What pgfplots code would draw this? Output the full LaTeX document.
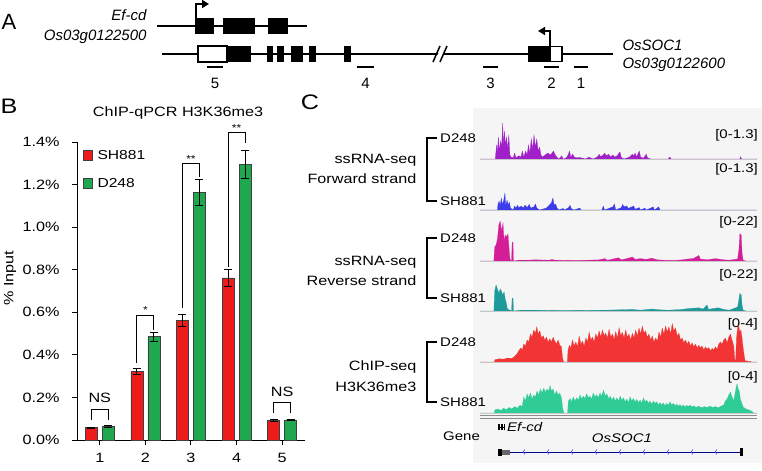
\documentclass[border=0pt]{standalone}
\usepackage{pgfplots}
\pgfplotsset{compat=1.18}
\usetikzlibrary{arrows.meta}
\usepackage{graphicx}
\usepackage{fontspec}
\setmainfont{Liberation Sans}
\newcommand\fs[1]{\fontsize{#1bp}{#1bp}\selectfont}
\newcommand\T[2]{{\fs{#1}\scalebox{1.2}[1]{#2}}}
\newcommand\TI[2]{{\fs{#1}\itshape\scalebox{1.2}[1]{#2}}}
\definecolor{barred}{HTML}{EE1B1B}
\definecolor{bargreen}{HTML}{1FA84F}
\definecolor{cpurple}{HTML}{A11FC8}
\definecolor{cblue}{HTML}{3C3CE8}
\definecolor{cmag}{HTML}{D41E98}
\definecolor{cteal}{HTML}{1F9A9A}
\definecolor{cred}{HTML}{F23434}
\definecolor{cgreen}{HTML}{2FCC96}
\definecolor{bg}{HTML}{F5F5F5}

\newcommand\track[3]{%
\begin{axis}[at={(480bp,-#1bp)},anchor=south west,scale only axis,width=277bp,height=40bp,
  xmin=0,xmax=100,ymin=0,ymax=1,hide axis,clip=true]
\addplot[fill=#2,draw=#2,line width=0.2pt] coordinates {#3} \closedcycle;
\end{axis}
\draw[black!22,line width=0.8bp] (480bp,-#1bp) -- (757bp,-#1bp);}

\begin{document}
\begin{tikzpicture}
\path[use as bounding box] (0bp,0bp) rectangle (762bp,-471bp);
\begin{scope}[x=1bp,y=1bp]
% ================= Panel A =================
\node[font=\fs{22}] at (9,-22) {A};
\node[anchor=east,font=\itshape\fs{15}] at (150,-15) {Ef-cd};
\node[anchor=east,font=\itshape\fs{15}] at (150,-37) {Os03g0122500};
\draw[line width=2bp] (157,-26) -- (307,-26);
\fill (195,-18) rectangle (214,-34);
\fill (223,-18) rectangle (255,-34);
\fill (268,-18) rectangle (288,-34);
\draw[line width=1.5bp,-{Triangle[length=7bp,width=8bp]}] (196,-18) -- (196,-4) -- (209,-4);
% OsSOC1
\draw[line width=2bp] (162,-54) -- (613,-54);
\filldraw[fill=white,draw=black,line width=1.3bp] (198,-46) rectangle (227,-62);
\fill (227,-46) rectangle (251,-62);
\fill (267,-46) rectangle (273,-62);
\fill (277,-46) rectangle (284,-62);
\fill (291,-46) rectangle (303,-62);
\fill (309,-46) rectangle (316,-62);
\fill (344,-46) rectangle (351,-62);
\fill (528,-46) rectangle (550,-62);
\filldraw[fill=white,draw=black,line width=1.3bp] (550,-46.6) rectangle (562,-61.4);
\fill[white] (435,-60) -- (440,-60) -- (446,-48) -- (441,-48) -- cycle;
\draw[line width=1.5bp] (433,-62) -- (440,-46) (440,-62) -- (447,-46);
\draw[line width=1.5bp,-{Triangle[length=7bp,width=8bp]}] (550,-46) -- (550,-31) -- (538,-31);
\foreach \a/\b/\n in {207/223/5,357/374/4,483/498/3,544/559/2,574/588/1}{
  \draw[line width=2bp] (\a,-67) -- (\b,-67);
  \node[font=\fs{15}] at ({(\a+\b)/2},-83) {\n};}
\node[anchor=west,font=\itshape\fs{15}] at (619,-45) {OsSOC1};
\node[anchor=west,font=\itshape\fs{15}] at (619,-65) {Os03g0122600};

% ================= Panel B texts =================
\node at (9,-106) {\T{21}{B}};
\node[anchor=base] at (178,-116) {\T{13.5}{ChIP-qPCR H3K36me3}};
\node[rotate=90] at (10,-278) {\T{13.5}{\% Input}};
\filldraw[fill=barred,draw=black!75,line width=0.6bp] (83,-150) rectangle (92,-160);
\node[anchor=west] at (94,-155) {\T{13}{SH881}};
\filldraw[fill=bargreen,draw=black!75,line width=0.6bp] (83,-178) rectangle (92,-188);
\node[anchor=west] at (94,-183) {\T{13}{D248}};

% ================= Panel C texts =================
\node at (310,-102) {\T{21}{C}};
\fill[bg] (473,-108) rectangle (762,-463);
\node[anchor=east] at (420,-160) {\T{13.5}{ssRNA-seq}};
\node[anchor=east] at (420,-179) {\T{13.5}{Forward strand}};
\node[anchor=east] at (420,-262) {\T{13.5}{ssRNA-seq}};
\node[anchor=east] at (420,-281) {\T{13.5}{Reverse strand}};
\node[anchor=east] at (420,-367) {\T{13.5}{ChIP-seq}};
\node[anchor=east] at (420,-387) {\T{13.5}{H3K36me3}};
\foreach \t/\b in {138/201,238/298,342/402}{
  \draw[line width=1.2bp] (437,-\t) -- (427,-\t) -- (427,-\b) -- (437,-\b);
  \node[anchor=west,inner sep=2bp] at (438,-\t) {\T{12.5}{D248}};
  \node[anchor=west,inner sep=2bp] at (438,-\b) {\T{12.5}{SH881}};}
\foreach \y/\l in {135/{[0-1.3]},169/{[0-1.3]},222/{[0-22]},275/{[0-22]},324/{[0-4]},377/{[0-4]}}{
  \node[anchor=east,inner sep=2bp] at (760,-\y) {\T{12.5}{\l}};}
% separator
\draw[black!45,line width=1bp] (480,-415) -- (757,-415);
\draw[black!45,line width=1bp] (480,-418) -- (757,-418);
% gene track
\node[anchor=west,inner sep=1bp] at (442,-436) {\T{12.5}{Gene}};
\fill (498,-424) rectangle (499.5,-430);
\fill (501,-424) rectangle (502.5,-430);
\fill (503.5,-424) rectangle (505,-430);
\draw (498,-427) -- (505,-427);
\node[anchor=west,inner sep=2bp] at (505,-427) {\TI{12.5}{Ef-cd}};
\node at (622,-438) {\TI{12.5}{OsSOC1}};
\draw[blue!55!black,line width=0.8bp] (498,-452) -- (742,-452);
\fill (498,-448.5) rectangle (502,-455.5);
\fill[black!60] (502,-449.5) rectangle (510,-454.5);
\fill (740,-448) rectangle (742.5,-456);
\foreach \x in {523,547,...,735}{
  \draw[blue!70,line width=0.6bp] (\x+2,-449.5) -- (\x,-452) -- (\x+2,-454.5);}
\end{scope}

% ================= Panel B axis =================
\begin{axis}[at={(77bp,-440bp)},anchor=south west,scale only axis,width=228bp,height=298bp,
  xmin=0.5,xmax=5.5,ymin=0,ymax=1.4,clip=false,
  axis lines=left,axis line style={-,line width=1bp},
  ytick={0,0.2,0.4,0.6,0.8,1.0,1.2,1.4},
  yticklabels={\T{13.5}{0.0\%},\T{13.5}{0.2\%},\T{13.5}{0.4\%},\T{13.5}{0.6\%},\T{13.5}{0.8\%},\T{13.5}{1.0\%},\T{13.5}{1.2\%},\T{13.5}{1.4\%}},
  xtick={1,2,3,4,5},xticklabels={\T{13.5}{1},\T{13.5}{2},\T{13.5}{3},\T{13.5}{4},\T{13.5}{5}},
  yticklabel style={xshift=-9bp},
  xticklabel style={yshift=-5bp},
  tick style={line width=1bp,black},tick align=outside,major tick length=5bp,
  ybar=5bp,bar width=12bp,
  error bars/y dir=both,error bars/y explicit,
  error bars/error bar style={line width=1bp,black},
  error bars/error mark options={rotate=90,mark size=4bp,line width=1bp,black}]
\addplot[fill=barred,draw=black!75,line width=0.6bp] coordinates {
(1,0.058) +- (0,0.003) (2,0.322) +- (0,0.012) (3,0.562) +- (0,0.027) (4,0.762) +- (0,0.04) (5,0.092) +- (0,0.004)};
\addplot[fill=bargreen,draw=black!75,line width=0.6bp] coordinates {
(1,0.063) +- (0,0.003) (2,0.485) +- (0,0.022) (3,1.162) +- (0,0.06) (4,1.295) +- (0,0.065) (5,0.094) +- (0,0.004)};
\draw[line width=1bp] (axis cs:0.814,0.094) |- (axis cs:1.186,0.144) -- (axis cs:1.186,0.094);
\node at (axis cs:1,0.197) {\T{13.5}{NS}};
\draw[line width=1bp] (axis cs:1.814,0.363) |- (axis cs:2.186,0.587) -- (axis cs:2.186,0.516);
\node at (axis cs:2,0.612) {\T{10}{*}};
\draw[line width=1bp] (axis cs:2.814,0.618) |- (axis cs:3.186,1.299) -- (axis cs:3.186,1.236);
\node at (axis cs:3,1.322) {\T{10}{**}};
\draw[line width=1bp] (axis cs:3.814,0.815) |- (axis cs:4.186,1.444) -- (axis cs:4.186,1.396);
\node at (axis cs:4,1.467) {\T{10}{**}};
\draw[line width=1bp] (axis cs:4.814,0.127) |- (axis cs:5.186,0.174) -- (axis cs:5.186,0.127);
\node at (axis cs:5,0.227) {\T{13.5}{NS}};
\end{axis}

% ================= Panel C tracks =================
\track{159}{cpurple}{(0,0) (5.5,0) (6,0.35) (6.3,0.15) (6.6,0.55) (7,0.2) (7.4,0.45) (7.8,0.3) (8.2,0.9) (8.5,0.3) (8.8,0.7) (9.2,0.35) (9.6,0.55) (10,0.25) (10.4,0.6) (10.8,0.1) (11.2,0.05) (12,0.03) (12.5,0.15) (13,0.03) (14,0.08) (14.8,0.05) (15.3,0.2) (15.8,0.05) (16.5,0.2) (17,0.1) (17.5,0.35) (18,0.15) (18.5,0.5) (19,0.25) (19.5,0.6) (20,0.3) (20.5,0.5) (21,0.2) (21.5,0.3) (22,0.1) (22.5,0.05) (23.5,0.1) (24.5,0.15) (25.5,0.1) (26.5,0.2) (27.2,0.1) (27.8,0.04) (28.5,0) (29.5,0.08) (30,0) (31,0.02) (31.8,0.1) (32.3,0.2) (32.8,0.05) (33.5,0.12) (34,0.05) (35,0.03) (36,0.04) (37,0.02) (38,0) (39.5,0.05) (40,0.02) (41,0) (42.5,0.06) (43,0.12) (43.5,0.06) (44.5,0.1) (45,0.15) (45.5,0.08) (46.5,0.12) (47,0.05) (48,0.1) (48.5,0.05) (49.5,0.08) (50.5,0.18) (51,0.04) (52,0) (54,0.05) (55,0.12) (55.5,0.08) (56,0.15) (56.5,0.05) (57.5,0.2) (58,0.05) (59,0.02) (60,0.12) (60.5,0.03) (61.5,0) (68,0) (68.5,0.05) (69,0) (93.8,0) (94.1,0.06) (94.4,0) (100,0)}
\track{210}{cblue}{(0,0) (6.3,0) (6.5,0.15) (6.9,0.22) (7.3,0.12) (7.7,0.3) (8,0.15) (8.5,0.22) (9,0.42) (9.3,0.12) (9.8,0.25) (10.2,0.12) (10.6,0.2) (11,0.05) (12,0) (12.5,0.1) (13,0.05) (13.5,0.12) (14,0.06) (15,0.1) (15.5,0.05) (16.3,0.12) (17,0.06) (17.8,0.14) (18.3,0.05) (19.5,0.08) (20,0.15) (20.5,0.05) (21.5,0) (24,0.05) (25,0.12) (25.8,0.18) (26.3,0.3) (26.8,0.12) (27.3,0.15) (27.8,0.05) (28.5,0) (30,0.04) (30.5,0) (32,0.06) (32.5,0.12) (33,0.03) (34,0) (36,0.05) (36.5,0) (44,0) (44.5,0.1) (45,0) (48,0.08) (48.5,0.15) (49,0) (51,0.06) (51.5,0.14) (52,0.08) (53,0.1) (53.5,0.04) (55.5,0.1) (56,0.02) (57.5,0.06) (58,0) (59.5,0.05) (60,0) (62,0.06) (62.5,0.08) (63,0) (64.5,0.08) (65,0) (100,0)}
\track{261}{cmag}{(0,0) (5,0) (5.3,0.35) (5.8,0.4) (6.3,0.55) (6.8,0.9) (7.3,1.0) (7.8,0.75) (8.3,0.95) (8.7,0.5) (9.1,0.65) (9.6,0.6) (10.1,0.68) (10.5,0.3) (10.8,0.05) (11.4,0) (11.6,0.47) (11.9,0.47) (12.1,0) (14,0.02) (17,0.02) (20,0.03) (25,0.02) (26,0.04) (27,0.02) (35,0.01) (43,0.03) (45,0.06) (46,0.02) (48,0.05) (50,0.08) (51,0.03) (53,0.06) (55,0.1) (56,0.04) (58,0.06) (60,0.04) (62,0.07) (64,0.03) (66,0.02) (70,0.01) (73,0.03) (75,0.05) (77,0.06) (79,0.14) (79.5,0.05) (82,0.03) (85,0.06) (88,0.03) (90,0.02) (93,0.05) (93.5,0.3) (93.8,0.68) (94.3,0.65) (94.6,0.2) (95,0.02) (96,0) (100,0)}
\track{311}{cteal}{(0,0) (5,0) (5.3,0.5) (5.8,0.65) (6.3,0.55) (6.8,0.45) (7.3,0.55) (7.7,0.5) (8.2,0.4) (8.7,0.48) (9.1,0.3) (9.5,0.2) (9.9,0.05) (11.4,0) (11.6,0.32) (11.9,0.32) (12.1,0) (15,0.02) (20,0.02) (30,0.01) (45,0.02) (50,0.03) (55,0.04) (58,0.02) (62,0.05) (65,0.03) (68,0.02) (73,0.04) (75,0.06) (77,0.07) (79,0.08) (80.5,0.05) (82,0.15) (82.5,0.04) (84,0.06) (86,0.08) (88,0.04) (90,0.02) (93,0.1) (93.5,0.3) (93.8,0.44) (94.3,0.4) (94.6,0.15) (95,0.02) (96,0) (100,0)}
\track{362}{cred}{(0,0) (5.2,0) (5.4,0.06) (7,0.08) (8.5,0.07) (10,0.1) (11.5,0.09) (12.5,0.14) (13.3,0.2) (14,0.28) (14.7,0.35) (15.3,0.3) (15.8,0.45) (16.4,0.4) (17,0.55) (17.6,0.5) (18.2,0.7) (18.8,0.62) (19.4,0.8) (20,0.72) (20.5,0.88) (21,0.7) (21.6,0.78) (22.2,0.6) (22.8,0.66) (23.4,0.55) (24,0.62) (24.6,0.5) (25.2,0.58) (25.8,0.5) (26.4,0.62) (27,0.52) (27.6,0.45) (28.2,0.55) (28.8,0.42) (29.4,0.38) (29.8,0.1) (30.2,0) (31.5,0) (31.8,0.3) (32.3,0.42) (32.8,0.35) (33.4,0.55) (34,0.4) (34.6,0.5) (35.2,0.38) (35.8,0.65) (36.4,0.45) (37,0.52) (37.6,0.4) (38.2,0.6) (38.8,0.5) (39.4,0.75) (40,0.55) (40.6,0.62) (41.2,0.5) (41.8,0.7) (42.4,0.6) (43,0.78) (43.6,0.62) (44.2,0.8) (44.8,0.66) (45.4,0.72) (46,0.6) (46.6,0.82) (47.2,0.62) (47.8,0.7) (48.4,0.56) (49,0.76) (49.6,0.6) (50.2,0.86) (50.8,0.66) (51.4,0.74) (52,0.6) (52.6,0.8) (53.2,0.62) (53.8,0.7) (54.4,0.55) (55,0.72) (55.6,0.6) (56.2,0.8) (56.8,0.65) (57.4,0.85) (58,0.7) (58.6,0.9) (59.2,0.72) (59.8,0.78) (60.4,0.62) (61,0.7) (61.6,0.55) (62.2,0.65) (62.8,0.5) (63.4,0.6) (64,0.52) (64.6,0.75) (65.2,0.62) (65.8,0.85) (66.4,0.7) (67,0.9) (67.6,0.75) (68.2,0.88) (68.8,0.7) (69.4,0.96) (70,0.78) (70.6,0.85) (71.2,0.65) (71.8,0.72) (72.4,0.55) (73,0.6) (73.6,0.48) (74.2,0.55) (74.8,0.45) (75.4,0.52) (76,0.4) (76.6,0.48) (77.2,0.38) (77.8,0.45) (78.4,0.35) (79,0.42) (79.6,0.35) (80.2,0.4) (80.8,0.3) (81.4,0.38) (82,0.32) (82.6,0.36) (83.2,0.28) (83.8,0.34) (84.4,0.3) (85,0.38) (85.6,0.32) (86.2,0.45) (86.8,0.5) (87.4,0.45) (88,0.55) (88.6,0.6) (89.2,0.48) (89.8,0.62) (90.4,0.7) (91,0.55) (91.6,0.4) (92,0.05) (92.3,0.05) (92.6,0.6) (93,0.85) (93.4,0.92) (93.8,0.75) (94.2,0.8) (94.6,0.6) (95,0.35) (95.5,0.1) (95.8,0.02) (96.5,0.03) (97,0) (97.5,0.02) (98,0) (100,0)}
\track{413}{cgreen}{(0,0) (5.2,0) (5.4,0.08) (6.5,0.1) (7.5,0.06) (8.5,0.12) (9.5,0.08) (10.5,0.14) (11.5,0.1) (12.5,0.16) (13.5,0.12) (14.5,0.2) (15.2,0.15) (15.8,0.4) (16.4,0.3) (17,0.48) (17.6,0.38) (18.2,0.5) (18.8,0.35) (19.4,0.45) (20,0.4) (20.6,0.55) (21.2,0.45) (21.8,0.6) (22.4,0.5) (23,0.62) (23.6,0.52) (24.2,0.6) (24.8,0.55) (25.3,0.69) (25.8,0.55) (26.4,0.6) (27,0.45) (27.6,0.55) (28.2,0.45) (28.8,0.5) (29.4,0.38) (29.9,0.1) (30.3,0) (31.6,0) (31.9,0.3) (32.5,0.36) (33.1,0.28) (33.7,0.4) (34.3,0.3) (34.9,0.38) (35.5,0.32) (36.1,0.45) (36.7,0.35) (37.3,0.42) (37.9,0.36) (38.5,0.48) (39.1,0.38) (39.7,0.42) (40.3,0.35) (40.9,0.5) (41.5,0.4) (42.1,0.46) (42.7,0.38) (43.3,0.5) (43.9,0.42) (44.6,0.57) (45.2,0.42) (45.8,0.48) (46.4,0.36) (47,0.42) (47.6,0.32) (48.2,0.4) (48.8,0.3) (49.4,0.38) (50,0.3) (50.6,0.42) (51.2,0.32) (51.8,0.38) (52.4,0.28) (53,0.35) (53.6,0.26) (54.2,0.4) (54.8,0.3) (55.4,0.36) (56,0.28) (56.6,0.34) (57.2,0.26) (57.8,0.32) (58.4,0.25) (59,0.38) (59.6,0.28) (60.2,0.32) (60.8,0.24) (61.4,0.3) (62,0.22) (62.6,0.3) (63.2,0.24) (63.8,0.28) (64.4,0.2) (65,0.26) (65.6,0.2) (66.2,0.25) (66.8,0.18) (67.4,0.24) (68,0.2) (68.6,0.28) (69.2,0.2) (69.8,0.24) (70.4,0.18) (71,0.22) (71.6,0.17) (72.2,0.21) (72.8,0.16) (73.4,0.2) (74,0.15) (74.6,0.19) (75.2,0.16) (75.8,0.2) (76.4,0.15) (77,0.18) (78,0.14) (79,0.17) (80,0.13) (81,0.16) (82,0.14) (83,0.17) (84,0.14) (85,0.16) (86,0.13) (87,0.17) (88,0.2) (88.6,0.3) (89.2,0.35) (89.8,0.45) (90.4,0.52) (91,0.4) (91.5,0.3) (92,0.45) (92.5,0.65) (92.8,0.73) (93.2,0.6) (93.6,0.55) (94,0.35) (94.5,0.25) (95,0.15) (96,0.1) (97,0.08) (98,0.05) (98.8,0) (100,0)}
\end{tikzpicture}
\end{document}
